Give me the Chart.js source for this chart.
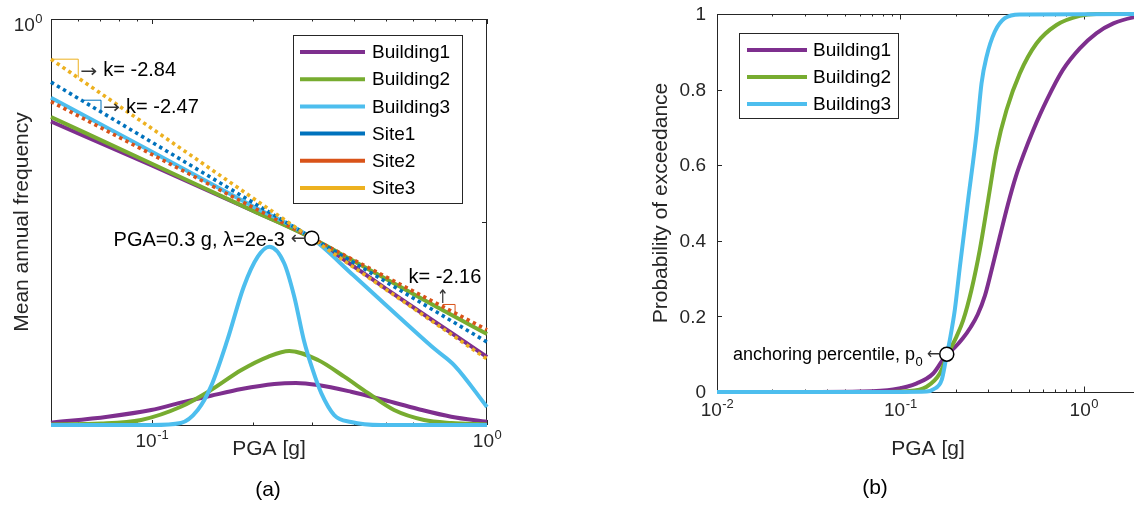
<!DOCTYPE html>
<html><head><meta charset="utf-8">
<script src="https://cdn.jsdelivr.net/npm/chart.js@4.4.1/dist/chart.umd.min.js"></script>
<style>
html,body{margin:0;padding:0;background:#fff;overflow:hidden;width:1134px;height:506px;position:relative}
#wa{position:absolute;left:0;top:0;width:560px;height:506px}
#wb{position:absolute;left:560px;top:0;width:600px;height:506px}
</style></head><body>
<div id="wa"><canvas id="ca" width="560" height="506"></canvas></div>
<div id="wb"><canvas id="cb" width="600" height="506"></canvas></div>
<script>
// ---------------- DATA: panel (a) hazard curves (left log axis) ----------------
const pgaHaz = [0.05, 0.1, 0.2, 0.3, 0.4, 0.5, 0.7, 0.8, 1.0];
const building1Haz = [0.05465, 0.0157, 0.004356, 0.002, 8.98e-4, 4.76e-4, 1.855e-4, 1.283e-4, 6.88e-5];
const building2Haz = [0.0621, 0.01647, 0.004369, 0.002, 1.046e-3, 6.28e-4, 2.93e-4, 2.17e-4, 1.32e-4];
const building3Haz = [0.1074, 0.02321, 0.00495, 0.002, 6.92e-4, 2.99e-4, 8.55e-5, 5.39e-5, 1.666e-5];
const pgaSite = [0.05, 1.0];
const site1Haz = [0.167, 1.05e-4];
const site2Haz = [0.096, 1.49e-4];
const site3Haz = [0.32, 6.5e-5];
// panel (a) PDFs (right linear axis)
const b1PdfX = [0.05, 0.0738, 0.0995, 0.122, 0.150, 0.185, 0.232, 0.269, 0.313, 0.393, 0.494, 0.622, 0.782, 1.0];
const b1PdfY = [0.011, 0.041, 0.074, 0.110, 0.144, 0.177, 0.202, 0.207, 0.197, 0.164, 0.123, 0.079, 0.041, 0.016];
const b2PdfX = [0.05, 0.0705, 0.0929, 0.122, 0.150, 0.185, 0.222, 0.257, 0.313, 0.375, 0.441, 0.528, 0.649, 0.782, 1.0];
const b2PdfY = [0.003, 0.007, 0.025, 0.090, 0.172, 0.271, 0.336, 0.365, 0.320, 0.238, 0.158, 0.074, 0.025, 0.010, 0.003];
const b3PdfX = [0.05, 0.1, 0.122, 0.137, 0.150, 0.168, 0.188, 0.207, 0.224, 0.248, 0.266, 0.284, 0.302, 0.320, 0.350, 0.393, 0.483, 1.0];
const b3PdfY = [0, 0, 0.01, 0.074, 0.189, 0.419, 0.681, 0.829, 0.878, 0.798, 0.632, 0.419, 0.271, 0.158, 0.049, 0.015, 0, 0];
const anchorA = {x: 0.3, y: 0.002};
// ---------------- DATA: panel (b) fragility curves ----------------
const b1FragX = [0.01, 0.0364, 0.060, 0.0914, 0.123, 0.151, 0.179, 0.198, 0.219, 0.242, 0.264, 0.289, 0.315, 0.348, 0.385, 0.426, 0.471, 0.527, 0.628, 0.769, 0.951, 1.17, 1.45, 1.86, 2.0];
const b1FragY = [0, 0, 0.001, 0.007, 0.023, 0.049, 0.100, 0.118, 0.142, 0.172, 0.205, 0.255, 0.325, 0.41, 0.495, 0.57, 0.63, 0.69, 0.772, 0.852, 0.909, 0.949, 0.975, 0.991, 0.993];
const b2FragX = [0.01, 0.0773, 0.108, 0.139, 0.164, 0.182, 0.202, 0.220, 0.244, 0.271, 0.301, 0.334, 0.379, 0.448, 0.552, 0.710, 0.951, 1.17, 2.0];
const b2FragY = [0, 0, 0.002, 0.014, 0.049, 0.102, 0.146, 0.190, 0.270, 0.376, 0.508, 0.640, 0.746, 0.843, 0.922, 0.971, 0.995, 1.0, 1.0];
const b3FragX = [0.01, 0.0993, 0.139, 0.151, 0.168, 0.177, 0.186, 0.198, 0.211, 0.234, 0.260, 0.277, 0.295, 0.327, 0.371, 0.448, 2.0];
const b3FragY = [0, 0, 0.001, 0.007, 0.032, 0.085, 0.138, 0.217, 0.331, 0.508, 0.684, 0.817, 0.887, 0.953, 0.989, 0.999, 1.0];
const anchorB = {x: 0.179, y: 0.1};
// tick values
const xTicksA = [0.06, 0.07, 0.08, 0.09, 0.1, 0.2, 0.3, 0.4, 0.5, 0.6, 0.7, 0.8, 0.9, 1];
const xMajorA = [0.1, 1];
const xLabelsA = [{v: 0.1, e: '-1'}, {v: 1, e: '0'}];
const xTicksB = [0.02,0.03,0.04,0.05,0.06,0.07,0.08,0.09,0.1,0.2,0.3,0.4,0.5,0.6,0.7,0.8,0.9,1,2];
const xMajorB = [0.01, 0.1, 1];
const xLabelsB = [{v: 0.01, e: '-2'}, {v: 0.1, e: '-1'}, {v: 1, e: '0'}];
const yTicksB = [0, 0.2, 0.4, 0.6, 0.8, 1];
const yLabelsB = ['0', '0.2', '0.4', '0.6', '0.8', '1'];
const names = ['Building1', 'Building2', 'Building3', 'Site1', 'Site2', 'Site3'];

// ---------------- style ----------------
const C = {b1: '#7E2F8E', b2: '#77AC30', b3: '#4DBEEE', s1: '#0072BD', s2: '#D95319', s3: '#EDB120'};
const FONT = "'Liberation Sans', Arial, Helvetica, sans-serif";
const ARW = "'DejaVu Sans', sans-serif";
const AX = '#262626';
const f = px => px + 'px ' + FONT;
const xy = (xs, ys) => xs.map((x, i) => ({x: x, y: ys[i]}));
function ln(ctx, x1, y1, x2, y2) { ctx.beginPath(); ctx.moveTo(x1, y1); ctx.lineTo(x2, y2); ctx.stroke(); }
// arrow glyph stretched to a given width; (x = left edge)
function arrowGlyph(ctx, g, x, y, w, size, sy) {
  ctx.save();
  ctx.font = size + 'px ' + ARW; ctx.textAlign = 'left'; ctx.textBaseline = 'middle'; ctx.fillStyle = '#333';
  const m = ctx.measureText(g).width;
  ctx.translate(x, y); ctx.scale(w / m, sy || 1);
  ctx.fillText(g, 0, 0);
  ctx.restore();
}
function powLabel(ctx, exp, x, baseY, align) {
  ctx.font = f(19); const wb = ctx.measureText('10').width;
  ctx.font = f(13); const we = ctx.measureText(exp).width;
  const x0 = align === 'right' ? x - wb - we : x - (wb + we) / 2;
  ctx.textAlign = 'left'; ctx.textBaseline = 'alphabetic'; ctx.fillStyle = AX;
  ctx.font = f(19); ctx.fillText('10', x0, baseY);
  ctx.font = f(13); ctx.fillText(exp, x0 + wb + 0.5, baseY - 8);
}
function vTitle(ctx, text, cx, cy, size) {
  ctx.save(); ctx.translate(cx, cy); ctx.rotate(-Math.PI / 2);
  ctx.font = f(size); ctx.fillStyle = AX; ctx.textAlign = 'center'; ctx.textBaseline = 'middle';
  ctx.fillText(text, 0, 0); ctx.restore();
}
function legendBox(ctx, x, y, w, h, items, y0, step, sx1, sx2, tx) {
  ctx.save();
  ctx.fillStyle = '#fff'; ctx.fillRect(x, y, w, h);
  ctx.strokeStyle = AX; ctx.lineWidth = 1; ctx.strokeRect(x + 0.5, y + 0.5, w, h);
  items.forEach((it, i) => {
    const yy = y + y0 + i * step;
    ctx.strokeStyle = it.c; ctx.lineWidth = 4; ctx.setLineDash([]);
    ln(ctx, x + sx1, yy, x + sx2, yy);
    ctx.fillStyle = '#000'; ctx.font = f(19); ctx.textAlign = 'left'; ctx.textBaseline = 'middle';
    ctx.fillText(it.t, x + tx, yy + 1);
  });
  ctx.restore();
}
function slopeTri(ctx, sx, sy, tri, color) {
  const px0 = sx.getPixelForValue(tri.x0), px1 = sx.getPixelForValue(tri.x1);
  const pyT = sy.getPixelForValue(tri.yTop), pyB = sy.getPixelForValue(tri.yBot);
  ctx.strokeStyle = color; ctx.lineWidth = 1; ctx.setLineDash([]);
  ctx.beginPath(); ctx.moveTo(px0, pyT); ctx.lineTo(px1, pyT); ctx.lineTo(px1, pyB); ctx.stroke();
  return {px0, px1, pyT, pyB};
}

const solid = (label, data, color, axis, order) => ({label, data, borderColor: color, backgroundColor: color,
  borderWidth: 4, yAxisID: axis, order, pointRadius: 0, cubicInterpolationMode: 'monotone', clip: 5, fill: false});
const dotted = (label, data, color, order) => ({label, data, borderColor: color, backgroundColor: color,
  borderWidth: 3.6, borderDash: [3.4, 3.6], yAxisID: 'y', order, pointRadius: 0, clip: 5, fill: false});
const anchorDs = (pt, axis) => ({label: 'anchor', data: [pt], yAxisID: axis, order: 0, showLine: false,
  pointRadius: 7, pointBorderWidth: 1.5, pointBorderColor: '#000', pointBackgroundColor: '#fff', clip: false});

// ---------------- panel (a) ----------------
const triA = [
  {x0: 0.05, x1: 0.0603, yTop: 0.32, yBot: 0.19, c: C.s3, text: 'k= -2.84', ty: 0.229},
  {x0: 0.0627, x1: 0.0705, yTop: 0.1, yBot: 0.072, c: C.s1, text: 'k= -2.47', ty: 0.0824}
];
const triA3 = {x0: 0.738, x1: 0.803, yTop: 3.05e-4, yBot: 2.42e-4, c: C.s2};
const plugA = {
  id: 'plugA',
  beforeDatasetsDraw(chart) {
    const {ctx, chartArea: a, scales} = chart;
    ctx.save();
    ctx.strokeStyle = AX; ctx.lineWidth = 1;
    ctx.strokeRect(a.left + 0.5, a.top + 0.5, a.right - a.left - 1, a.bottom - a.top);
    xTicksA.forEach(v => {
      const px = Math.round(scales.x.getPixelForValue(v)) + 0.5;
      const len = xMajorA.includes(v) ? 5 : 2.5;
      ln(ctx, px, a.bottom, px, a.bottom - len); ln(ctx, px, a.top, px, a.top + len);
    });
    const py = Math.round(scales.y2.getPixelForValue(1)) + 0.5;
    ln(ctx, a.right, py, a.right - 5, py);
    ctx.restore();
  },
  afterDatasetsDraw(chart) {
    const {ctx, chartArea: a, scales} = chart;
    ctx.save();
    // tick labels
    xLabelsA.forEach(l => powLabel(ctx, l.e, scales.x.getPixelForValue(l.v), 447, 'center'));
    powLabel(ctx, '0', a.left - 9, scales.y.getPixelForValue(1) + 12, 'right');
    // titles
    ctx.fillStyle = AX; ctx.font = f(21); ctx.textAlign = 'center'; ctx.textBaseline = 'alphabetic';
    ctx.fillText('PGA [g]', (a.left + a.right) / 2, 455);
    vTitle(ctx, 'Mean annual frequency', 22, (a.top + a.bottom) / 2, 21);
    ctx.fillStyle = '#000'; ctx.font = f(21); ctx.textAlign = 'center'; ctx.textBaseline = 'middle';
    ctx.fillText('(a)', 268, 490);
    // slope annotations
    triA.forEach(t => {
      const p = slopeTri(ctx, scales.x, scales.y, t, t.c);
      const ty = scales.y.getPixelForValue(t.ty);
      arrowGlyph(ctx, '\u2192', p.px1 + 2, ty + 1, 17, 18);
      ctx.fillStyle = '#000'; ctx.font = f(20); ctx.textAlign = 'left'; ctx.textBaseline = 'middle';
      ctx.fillText(t.text, p.px1 + 25, ty);
    });
    const p3 = slopeTri(ctx, scales.x, scales.y, triA3, triA3.c);
    ctx.save();
    ctx.font = '18px ' + ARW; ctx.fillStyle = '#333'; ctx.textAlign = 'center'; ctx.textBaseline = 'bottom';
    ctx.translate(p3.px0, p3.pyT + 3); ctx.scale(0.8, 1.05); ctx.fillText('\u2191', 0, 0);
    ctx.restore();
    ctx.fillStyle = '#000'; ctx.font = f(20); ctx.textAlign = 'left'; ctx.textBaseline = 'middle';
    ctx.fillText('k= -2.16', scales.x.getPixelForValue(0.583), scales.y.getPixelForValue(6.65e-4));
    // anchor text
    const ax = scales.x.getPixelForValue(anchorA.x), ay = scales.y.getPixelForValue(anchorA.y);
    arrowGlyph(ctx, '\u2190', ax - 21, ay + 1, 15, 18);
    ctx.fillStyle = '#000'; ctx.font = f(20); ctx.textAlign = 'right'; ctx.textBaseline = 'middle';
    ctx.fillText('PGA=0.3 g, \u03bb=2e-3', ax - 27, ay + 2);
    // legend
    legendBox(ctx, a.left + 242, a.top + 16, 169, 168,
      [{t: names[0], c: C.b1}, {t: names[1], c: C.b2}, {t: names[2], c: C.b3},
       {t: names[3], c: C.s1}, {t: names[4], c: C.s2}, {t: names[5], c: C.s3}],
      17, 27.2, 7, 72, 79);
    ctx.restore();
  }
};
new Chart(document.getElementById('ca'), {
  type: 'line',
  data: {datasets: [
    anchorDs(anchorA, 'y'),
    dotted(names[3], xy(pgaSite, site1Haz), C.s1, 2),
    dotted(names[4], xy(pgaSite, site2Haz), C.s2, 3),
    dotted(names[5], xy(pgaSite, site3Haz), C.s3, 1),
    solid(names[0], xy(pgaHaz, building1Haz), C.b1, 'y', 6),
    solid(names[1], xy(pgaHaz, building2Haz), C.b2, 'y', 5),
    solid(names[2], xy(pgaHaz, building3Haz), C.b3, 'y', 4),
    solid(names[0] + ' pdf', xy(b1PdfX, b1PdfY), C.b1, 'y2', 9),
    solid(names[1] + ' pdf', xy(b2PdfX, b2PdfY), C.b2, 'y2', 8),
    solid(names[2] + ' pdf', xy(b3PdfX, b3PdfY), C.b3, 'y2', 7)
  ]},
  options: {
    responsive: false, animation: false, devicePixelRatio: 1, events: [],
    layout: {padding: {left: 51, top: 19, right: 73, bottom: 81}},
    plugins: {legend: {display: false}, tooltip: {enabled: false}},
    scales: {
      x: {type: 'logarithmic', min: 0.05, max: 1, display: false},
      y: {type: 'logarithmic', min: 1e-5, max: 1, display: false},
      y2: {type: 'linear', min: 0, max: 2, display: false, position: 'right'}
    }
  },
  plugins: [plugA]
});

// ---------------- panel (b) ----------------
const plugB = {
  id: 'plugB',
  beforeDatasetsDraw(chart) {
    const {ctx, chartArea: a, scales} = chart;
    ctx.save();
    ctx.strokeStyle = AX; ctx.lineWidth = 1;
    ctx.strokeRect(a.left + 0.5, a.top + 0.5, a.right - a.left - 1, a.bottom - a.top);
    xTicksB.forEach(v => {
      const px = Math.round(scales.x.getPixelForValue(v)) + 0.5;
      const len = xMajorB.includes(v) ? 5.5 : 2.5;
      ln(ctx, px, a.bottom, px, a.bottom - len); ln(ctx, px, a.top, px, a.top + len);
    });
    yTicksB.forEach(v => {
      const py = Math.round(scales.y.getPixelForValue(v)) + 0.5;
      ln(ctx, a.left, py, a.left + 5, py); ln(ctx, a.right, py, a.right - 5, py);
    });
    ctx.restore();
  },
  afterDatasetsDraw(chart) {
    const {ctx, chartArea: a, scales} = chart;
    ctx.save();
    xLabelsB.forEach(l => powLabel(ctx, l.e, scales.x.getPixelForValue(l.v), 416, 'center'));
    ctx.fillStyle = AX; ctx.font = f(19); ctx.textAlign = 'right'; ctx.textBaseline = 'middle';
    yTicksB.forEach((v, i) => ctx.fillText(yLabelsB[i], a.left - 11, scales.y.getPixelForValue(v) + 1));
    ctx.font = f(21); ctx.textAlign = 'center'; ctx.textBaseline = 'alphabetic';
    ctx.fillText('PGA [g]', (a.left + a.right) / 2, 455);
    vTitle(ctx, 'Probability of exceedance', 101, (a.top + a.bottom) / 2, 21);
    ctx.fillStyle = '#000'; ctx.font = f(21); ctx.textAlign = 'center'; ctx.textBaseline = 'middle';
    ctx.fillText('(b)', 315, 488);
    // anchor annotation
    const ax = scales.x.getPixelForValue(anchorB.x), ay = scales.y.getPixelForValue(anchorB.y);
    arrowGlyph(ctx, '\u2190', ax - 20, ay + 1, 13, 16);
    ctx.fillStyle = '#000'; ctx.textBaseline = 'middle'; ctx.textAlign = 'right';
    ctx.font = f(13); const ws = ctx.measureText('0').width;
    ctx.fillText('0', ax - 24, ay + 8);
    ctx.font = f(18);
    ctx.fillText('anchoring percentile, p', ax - 24 - ws - 0.5, ay + 1);
    legendBox(ctx, a.left + 22, a.top + 19, 159, 85,
      [{t: names[0], c: C.b1}, {t: names[1], c: C.b2}, {t: names[2], c: C.b3}],
      17, 27, 8, 68, 74);
    ctx.restore();
  }
};
new Chart(document.getElementById('cb'), {
  type: 'line',
  data: {datasets: [
    anchorDs(anchorB, 'y'),
    solid(names[2], xy(b3FragX, b3FragY), C.b3, 'y', 1),
    solid(names[1], xy(b2FragX, b2FragY), C.b2, 'y', 2),
    solid(names[0], xy(b1FragX, b1FragY), C.b1, 'y', 3)
  ]},
  options: {
    responsive: false, animation: false, devicePixelRatio: 1, events: [],
    layout: {padding: {left: 157, top: 14, right: 21, bottom: 114}},
    plugins: {legend: {display: false}, tooltip: {enabled: false}},
    scales: {
      x: {type: 'logarithmic', min: 0.01, max: 2, display: false},
      y: {type: 'linear', min: 0, max: 1, display: false}
    }
  },
  plugins: [plugB]
});
</script>
</body></html>
